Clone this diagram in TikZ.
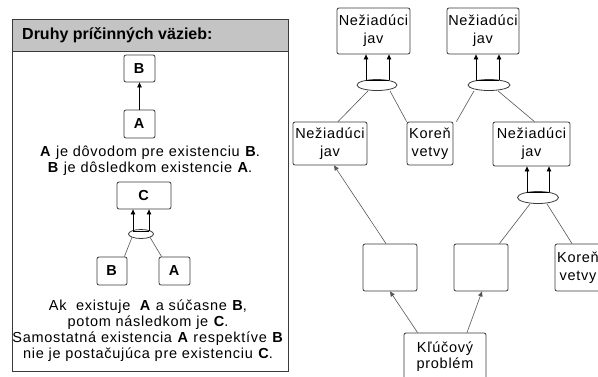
\documentclass[tikz,border=0pt]{standalone}
\usepackage{fontspec}
\setmainfont{Liberation Sans}
\newfontfamily\widesans[LetterSpace=5]{Liberation Sans}
\usetikzlibrary{arrows.meta,shapes.geometric}
\definecolor{frame}{HTML}{3A3A3A}
\definecolor{wire}{HTML}{555555}
\definecolor{headgray}{HTML}{C4C4C4}
\begin{document}
\begin{tikzpicture}[x=1pt,y=-1pt,
  box/.style={draw=frame,line width=0.8pt,rounded corners=2pt,fill=white,
    inner sep=0pt,align=center,font=\widesans\fontsize{14.5}{18}\selectfont},
  andnode/.style={draw=frame,line width=0.8pt,ellipse,inner sep=0pt},
  wireline/.style={draw=wire,line width=0.6pt},
  arr/.style={draw=black,line width=0.8pt,-{Triangle[length=5pt,width=4.5pt]}},
  note/.style={align=center,inner sep=0pt,font=\widesans\fontsize{14.5}{16}\selectfont}]
\useasboundingbox (0,0) rectangle (598,376);
\clip (0,0) rectangle (598,376);

% ---- left panel: kinds of causal links ----
\path[draw=frame,line width=0.8pt,fill=white] (12,19) rectangle (288,371);
\path[draw=frame,line width=0.8pt,fill=headgray] (12,19) rectangle (288,51);
\node[anchor=west,inner sep=0pt,font=\fontsize{16}{16}\selectfont\bfseries] (head) at (22,35) {Druhy príčinných väzieb:};

% simple cause -> effect
\node[box,minimum width=31pt,minimum height=27pt] (b1) at (139.5,68.5) {\textbf{B}};
\node[box,minimum width=31pt,minimum height=28pt] (a1) at (139.5,124) {\textbf{A}};
\draw[arr] (a1.north) -- (b1.south);
\node[note] (t1) at (150,160.5) {\textbf{A} je dôvodom pre existenciu \textbf{B}.\\\textbf{B} je dôsledkom existencie \textbf{A}.};

% combined causes (AND)
\node[box,minimum width=54pt,minimum height=27pt] (c2) at (144,195.5) {\textbf{C}};
\node[andnode,minimum width=25pt,minimum height=9pt] (e0) at (141,234) {};
\node[box,minimum width=30pt,minimum height=28pt] (b2) at (112,271) {\textbf{B}};
\node[box,minimum width=31pt,minimum height=28pt] (a2) at (174.5,271) {\textbf{A}};
\coordinate (e0l) at (133,231);
\coordinate (e0r) at (149,231);
\draw[draw=black,line width=0.8pt] (e0l) -- (e0r);
\draw[arr] (e0l) -- (e0l |- c2.south);
\draw[arr] (e0r) -- (e0r |- c2.south);
\draw[wireline] ([xshift=-3pt]b2.north east) -- (e0.south west);
\draw[wireline] ([xshift=3pt]a2.north west) -- (e0.south east);
\node[note] (t2) at (148,331) {Ak \ existuje \ \textbf{A} a súčasne \textbf{B},\\potom následkom je \textbf{C}.\\Samostatná existencia \textbf{A} respektíve \textbf{B}\\nie je postačujúca pre existenciu \textbf{C}.};

% ---- right: current reality tree ----
\node[box,minimum width=73pt,minimum height=46pt] (top1) at (373.5,31) {Nežiadúci\\jav};
\node[box,minimum width=72pt,minimum height=46pt] (top2) at (483,31) {Nežiadúci\\jav};
\node[andnode,minimum width=40pt,minimum height=11pt] (and1) at (377,85) {};
\node[andnode,minimum width=42pt,minimum height=11pt] (and2) at (489,85) {};
\node[box,minimum width=74pt,minimum height=43pt] (ude1) at (330,143.5) {Nežiadúci\\jav};
\node[box,minimum width=46pt,minimum height=43pt] (root1) at (430,143.5) {Koreň\\vetvy};
\node[box,minimum width=77pt,minimum height=44pt] (ude2) at (531.5,144) {Nežiadúci\\jav};
\node[andnode,minimum width=41pt,minimum height=12pt] (and3) at (538,197.5) {};
\node[box,minimum width=54pt,minimum height=47pt] (x1) at (390,267.5) {};
\node[box,minimum width=54pt,minimum height=47pt] (x2) at (481,267.5) {};
\node[box,minimum width=46pt,minimum height=47pt] (root2) at (578,267.5) {Koreň\\vetvy};
\node[box,minimum width=82pt,minimum height=47pt,font=\widesans\fontsize{14.5}{15.5}\selectfont] (key) at (445,356.5) {Kľúčový\\problém};

% AND junction 1
\coordinate (j1l) at (366,80);
\coordinate (j1r) at (389,80);
\draw[draw=black,line width=0.8pt] (j1l) -- (j1r);
\draw[arr] (j1l) -- (j1l |- top1.south);
\draw[arr] (j1r) -- (j1r |- top1.south);
\draw[wireline] ([xshift=-9pt]and1.south) -- ([xshift=8pt]ude1.north);
\draw[wireline] ([xshift=13pt]and1.south) -- (root1.north west);

% AND junction 2
\coordinate (j2l) at (476,80);
\coordinate (j2r) at (499,80);
\draw[draw=black,line width=0.8pt] (j2l) -- (j2r);
\draw[arr] (j2l) -- (j2l |- top2.south);
\draw[arr] (j2r) -- (j2r |- top2.south);
\draw[wireline] ([xshift=-15pt]and2.south) -- ([xshift=3pt]root1.north east);
\draw[wireline] ([xshift=9pt]and2.south) -- ([xshift=3pt]ude2.north);

% AND junction 3
\coordinate (j3l) at (527,192);
\coordinate (j3r) at (549,192);
\draw[draw=black,line width=0.8pt] (j3l) -- (j3r);
\draw[arr] (j3l) -- (j3l |- ude2.south);
\draw[arr] (j3r) -- (j3r |- ude2.south);
\draw[wireline] ([xshift=-8pt]and3.south) -- ([xshift=-9pt]x2.north east);
\draw[wireline] ([xshift=9pt]and3.south) -- ([xshift=-6pt]root2.north);

% single causes
\draw[arr,draw=wire,line width=0.6pt] ([xshift=-4pt]x1.north) -- ([xshift=4pt]ude1.south);
\draw[arr,draw=wire,line width=0.6pt] ([xshift=14pt]key.north west) -- (x1.south);
\draw[arr,draw=wire,line width=0.6pt] ([xshift=22pt]key.north) -- ([xshift=1pt]x2.south);
\end{tikzpicture}
\end{document}
